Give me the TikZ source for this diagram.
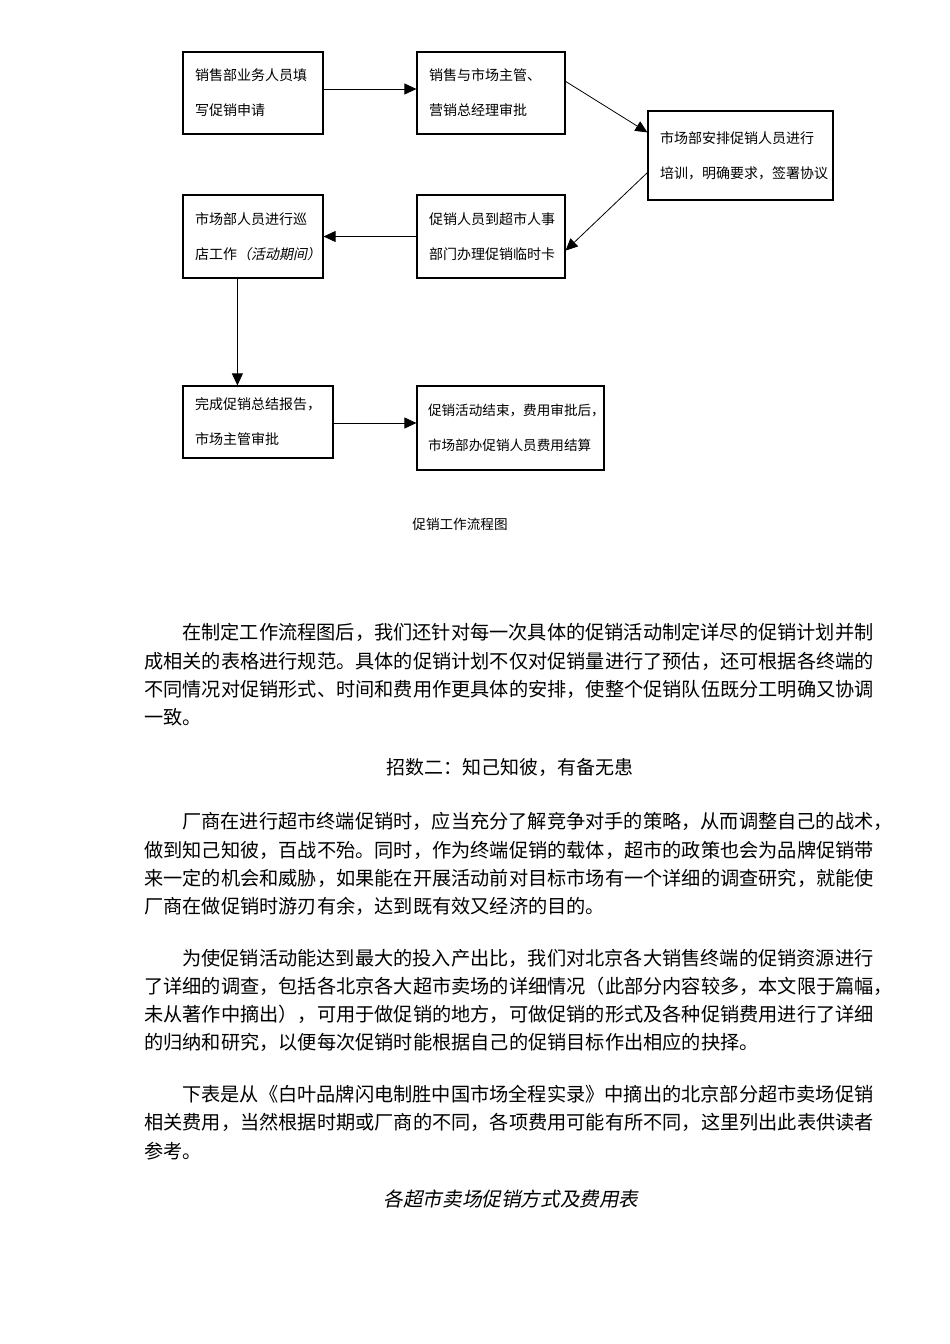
\documentclass[tikz,border=0pt]{standalone}
\usepackage{fontspec}
\newfontfamily\cjk{Noto Sans CJK SC}
\newfontfamily\cjkit[FakeSlant=0.2]{Noto Sans CJK SC}
\usetikzlibrary{arrows.meta, positioning}

\begin{document}
\begin{tikzpicture}[x=1pt,y=-1pt,>={Triangle[length=12pt,width=11pt]},
  stepbox/.style={draw, line width=1.2pt, rectangle, align=left, inner xsep=12pt,
    font=\cjk\fontsize{14}{35}\selectfont},
  flow/.style={->, line width=0.8pt},
  bodyline/.style={anchor=west, inner sep=0pt, font=\cjk\fontsize{19.2}{19.2}\selectfont}]

% page
  \useasboundingbox[fill=white] (0,0) rectangle (950,1344);

% define the steps of the flow
  \node[stepbox, minimum width=140pt, minimum height=82pt, text width=116pt] (apply) at (253,93)
{销售部业务人员填\\写促销申请};
  \node[stepbox, minimum width=148pt, minimum height=82pt, text width=124pt] (approve) at (491,93)
{销售与市场主管、\\营销总经理审批};
  \node[stepbox, minimum width=185pt, minimum height=89pt, text width=161pt] (train) at (740.5,155.5)
{市场部安排促销人员进行\\培训，明确要求，签署协议};
  \node[stepbox, minimum width=148pt, minimum height=83pt, text width=124pt] (card) at (491,236.5)
{促销人员到超市人事\\部门办理促销临时卡};
  \node[stepbox, minimum width=140pt, minimum height=83pt, text width=116pt] (patrol) at (253,236.5)
{市场部人员进行巡\\店工作{\cjkit（活动期间）}};
  \node[stepbox, minimum width=150pt, minimum height=72pt, text width=126pt] (report) at (258,422)
{完成促销总结报告，\\市场主管审批};
  \node[stepbox, minimum width=187pt, minimum height=84pt, text width=165pt, inner xsep=11pt,
    font=\cjk\fontsize{13.6}{35}\selectfont] (settle) at (510.5,428)
{促销活动结束，费用审批后，\\市场部办促销人员费用结算};
  \node[font=\cjk\fontsize{13.6}{13.6}\selectfont] (flowcap) at (460,524) {促销工作流程图};

% define the links
  \draw[flow] ([yshift=4pt]apply.east) -- ([yshift=4pt]apply.east -| approve.west);
  \draw[flow] ([yshift=-30pt]approve.north east) -- ([yshift=-22pt]train.north west);
  \draw[flow] ([yshift=28pt]train.south west) -- ([yshift=28pt]card.south east);
  \draw[flow] (card) -- (patrol);
  \draw[flow] ([xshift=55pt]patrol.south west) -- ([xshift=55pt]report.north west);
  \draw[flow] ([yshift=-1pt]report.east) -- ([yshift=-1pt]report.east -| settle.west);

% text below
  \node[bodyline] (p1a) at (182,632) {在制定工作流程图后，我们还针对每一次具体的促销活动制定详尽的促销计划并制};
  \node[bodyline] (p1b) at (144,661) {成相关的表格进行规范。具体的促销计划不仅对促销量进行了预估，还可根据各终端的};
  \node[bodyline] (p1c) at (144,689) {不同情况对促销形式、时间和费用作更具体的安排，使整个促销队伍既分工明确又协调};
  \node[bodyline] (p1d) at (144,717) {一致。};

  \node[font=\cjk\fontsize{19}{19}\selectfont] (head2) at (510,767) {招数二：知己知彼，有备无患};

  \node[bodyline] (p2a) at (182,821) {厂商在进行超市终端促销时，应当充分了解竞争对手的策略，从而调整自己的战术，};
  \node[bodyline] (p2b) at (144,850) {做到知己知彼，百战不殆。同时，作为终端促销的载体，超市的政策也会为品牌促销带};
  \node[bodyline] (p2c) at (144,878) {来一定的机会和威胁，如果能在开展活动前对目标市场有一个详细的调查研究，就能使};
  \node[bodyline] (p2d) at (144,906) {厂商在做促销时游刃有余，达到既有效又经济的目的。};

  \node[bodyline] (p3a) at (182,958) {为使促销活动能达到最大的投入产出比，我们对北京各大销售终端的促销资源进行};
  \node[bodyline] (p3b) at (144,986) {了详细的调查，包括各北京各大超市卖场的详细情况（此部分内容较多，本文限于篇幅，};
  \node[bodyline] (p3c) at (144,1014) {未从著作中摘出），可用于做促销的地方，可做促销的形式及各种促销费用进行了详细};
  \node[bodyline] (p3d) at (144,1042) {的归纳和研究，以便每次促销时能根据自己的促销目标作出相应的抉择。};

  \node[bodyline] (p4a) at (182,1094) {下表是从《白叶品牌闪电制胜中国市场全程实录》中摘出的北京部分超市卖场促销};
  \node[bodyline] (p4b) at (144,1122) {相关费用，当然根据时期或厂商的不同，各项费用可能有所不同，这里列出此表供读者};
  \node[bodyline] (p4c) at (144,1151) {参考。};

  \node[font=\cjkit\fontsize{19.6}{19.6}\selectfont] (tabcap) at (511,1199) {各超市卖场促销方式及费用表};

\end{tikzpicture}
\end{document}
